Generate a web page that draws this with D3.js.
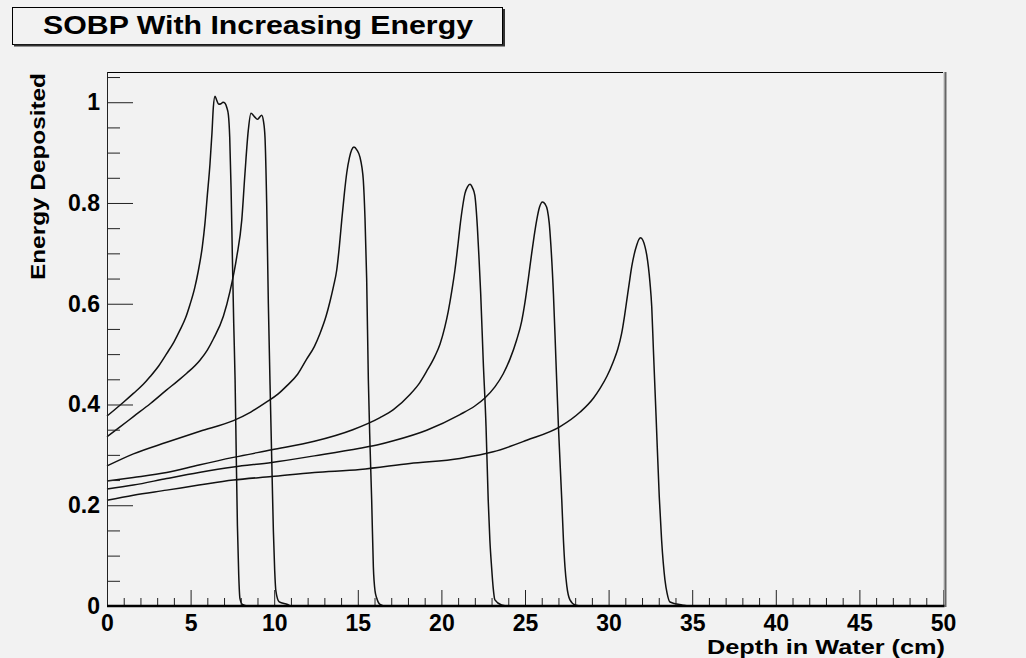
<!DOCTYPE html>
<html>
<head>
<meta charset="utf-8">
<script src="https://cdn.jsdelivr.net/npm/d3@7"></script>
<style>
  html, body { margin: 0; padding: 0; background: #f2f2f2; }
  svg { display: block; }
  text { font-family: "Liberation Sans", Arial, Helvetica, sans-serif; font-weight: bold; fill: #000; }
  .axis text { font-size: 23px; }
</style>
</head>
<body>
<div id="main"></div>
<script>
// [depth (cm), energy deposited], one list per beam energy
const curve1 = [[0, 0.377], [1.0, 0.405], [1.58, 0.422], [2.17, 0.44], [2.57, 0.455], [3.1, 0.477], [3.57, 0.501],
  [4.0, 0.524], [4.37, 0.548], [4.7, 0.572], [4.96, 0.598], [5.25, 0.632], [5.46, 0.665], [5.7, 0.713], [5.86, 0.76],
  [6.0, 0.815], [6.16, 0.878], [6.28, 0.94], [6.36, 0.99], [6.46, 1.012], [6.56, 1.004], [6.68, 0.996], [6.82, 0.997],
  [6.94, 1.0], [7.06, 0.998], [7.16, 0.99], [7.26, 0.975], [7.34, 0.93], [7.42, 0.83], [7.5, 0.69], [7.58, 0.56],
  [7.66, 0.45], [7.73, 0.3], [7.8, 0.16], [7.88, 0.06], [7.95, 0.015], [8.1, 0.003], [8.4, 0], [50, 0]];

const curve2 = [[0, 0.336], [0.8, 0.356], [1.58, 0.376], [2.6, 0.402], [3.57, 0.429], [4.2, 0.446], [4.77, 0.462],
  [5.56, 0.488], [6.0, 0.508], [6.36, 0.53], [6.96, 0.575], [7.36, 0.625], [7.76, 0.693], [8.06, 0.766], [8.25, 0.858],
  [8.45, 0.944], [8.61, 0.978], [8.8, 0.972], [9.0, 0.966], [9.12, 0.97], [9.25, 0.974], [9.36, 0.962], [9.45, 0.93],
  [9.55, 0.8], [9.65, 0.6], [9.79, 0.383], [9.88, 0.25], [9.95, 0.15], [10.03, 0.07], [10.1, 0.03], [10.3, 0.008],
  [10.8, 0.003], [11.0, 0], [50, 0]];

const curve3 = [[0, 0.278], [1.58, 0.302], [3.57, 0.325], [5.56, 0.347], [7.56, 0.368], [8.6, 0.385], [9.55, 0.405],
  [10.2, 0.42], [10.75, 0.437], [11.4, 0.46], [11.94, 0.49], [12.4, 0.515], [12.74, 0.541], [13.1, 0.575], [13.34, 0.605],
  [13.55, 0.635], [13.74, 0.667], [13.9, 0.715], [14.04, 0.766], [14.2, 0.82], [14.34, 0.86], [14.5, 0.89], [14.63, 0.905],
  [14.77, 0.911], [14.95, 0.905], [15.13, 0.891], [15.25, 0.87], [15.33, 0.845], [15.43, 0.77], [15.53, 0.65],
  [15.63, 0.45], [15.73, 0.32], [15.83, 0.21], [15.93, 0.078], [16.03, 0.03], [16.13, 0.016], [16.33, 0.003], [16.6, 0], [50, 0]];

const curve4 = [[0, 0.248], [1.58, 0.255], [3.57, 0.265], [5.5, 0.28], [7.56, 0.295], [9.85, 0.31], [12.4, 0.327],
  [14.7, 0.35], [16.33, 0.374], [17.13, 0.39], [18.12, 0.42], [18.7, 0.443], [19.12, 0.466], [19.6, 0.495],
  [19.92, 0.52], [20.2, 0.553], [20.41, 0.585], [20.62, 0.625], [20.81, 0.667], [21.0, 0.72], [21.11, 0.753], [21.28, 0.795],
  [21.41, 0.819], [21.56, 0.832], [21.71, 0.837], [21.86, 0.83], [22.0, 0.815], [22.15, 0.753], [22.25, 0.69], [22.35, 0.62],
  [22.5, 0.488], [22.67, 0.356], [22.8, 0.21], [22.9, 0.13], [23.0, 0.078], [23.1, 0.035], [23.2, 0.012], [23.6, 0.002], [24.0, 0], [50, 0]];

const curve5 = [[0, 0.232], [1.58, 0.24], [3.57, 0.253], [5.5, 0.265], [7.56, 0.276], [9.85, 0.285], [12.4, 0.298],
  [15.13, 0.313], [16.33, 0.321], [17.13, 0.328], [19.12, 0.349], [21.11, 0.38], [22.0, 0.397], [22.6, 0.413],
  [23.2, 0.435], [23.7, 0.461], [24.1, 0.49], [24.5, 0.528], [24.8, 0.565], [25.0, 0.603], [25.2, 0.65], [25.4, 0.7],
  [25.55, 0.735], [25.7, 0.766], [25.87, 0.792], [26.04, 0.802], [26.2, 0.798], [26.34, 0.786], [26.45, 0.76],
  [26.54, 0.72], [26.7, 0.62], [26.85, 0.488], [27.0, 0.356], [27.2, 0.21], [27.3, 0.13], [27.39, 0.078], [27.5, 0.04],
  [27.69, 0.012], [28.0, 0.002], [28.4, 0], [50, 0]];

const curve6 = [[0, 0.21], [1.58, 0.22], [3.57, 0.23], [5.5, 0.24], [7.56, 0.25], [9.85, 0.257], [12.4, 0.265],
  [15.13, 0.271], [18.12, 0.283], [21.11, 0.293], [23.1, 0.306], [25.1, 0.329], [27.1, 0.356], [28.3, 0.385],
  [29.1, 0.413], [29.49, 0.432], [29.9, 0.456], [30.28, 0.485], [30.55, 0.51], [30.78, 0.541], [30.95, 0.575],
  [31.08, 0.605], [31.24, 0.642], [31.38, 0.673], [31.53, 0.698], [31.68, 0.716], [31.8, 0.727], [31.92, 0.731],
  [32.05, 0.726], [32.18, 0.713], [32.28, 0.697], [32.38, 0.673], [32.48, 0.64], [32.58, 0.594], [32.68, 0.508],
  [32.84, 0.376], [33.03, 0.217], [33.17, 0.131], [33.37, 0.052], [33.5, 0.025], [33.67, 0.008], [34.4, 0.002], [34.8, 0], [50, 0]];

const curves = [curve1, curve2, curve3, curve4, curve5, curve6];

const xTickLabels = [0, 5, 10, 15, 20, 25, 30, 35, 40, 45, 50];
const yTickLabels = [0, 0.2, 0.4, 0.6, 0.8, 1];

const titleText = "SOBP With Increasing Energy";
const xTitle = "Depth in Water (cm)";
const yTitle = "Energy Deposited";

class SobpChart {
  constructor(config) {
    this.config = config;
    this.svg = null;
    this.margins = null;
    this.xScale = null;
    this.yScale = null;

    this.createSvg();
    this.createMargins();
  }

  createSvg() {
    this.svg = d3.select(this.config.div)
      .append("svg")
      .attr("width", 1026)
      .attr("height", 658);
  }

  createMargins() {
    this.margins = this.svg
      .append("g")
      .attr("transform", `translate(${this.config.left},${this.config.top})`);
  }

  createScales() {
    this.xScale = d3.scaleLinear().domain([0, 50]).range([0, this.config.width]);
    this.yScale = d3.scaleLinear().domain([0, 1.06]).range([this.config.height, 0]);
  }

  createAxis() {
    const w = this.config.width, h = this.config.height;
    const fmt = d3.format("~g");

    const yMinor = d3.range(0, 22).map(i => i * 0.05).filter((d, i) => i % 4 !== 0 && d <= 1.06);
    const xMinor = d3.range(0, 51).filter(d => d % 5 !== 0);

    const clean = g => {
      g.select(".domain").remove();
      g.selectAll(".tick line").attr("stroke", "#222").attr("stroke-width", 1);
    };

    this.margins.append("g").attr("class", "axis")
      .call(d3.axisLeft(this.yScale).tickValues(yMinor).tickSize(-13).tickFormat(""))
      .call(clean);
    this.margins.append("g").attr("class", "axis")
      .call(d3.axisLeft(this.yScale).tickValues(yTickLabels).tickSize(-26).tickPadding(7).tickFormat(fmt))
      .call(clean);

    this.margins.append("g").attr("class", "axis")
      .attr("transform", `translate(0,${h})`)
      .call(d3.axisBottom(this.xScale).tickValues(xMinor).tickSize(-8).tickFormat(""))
      .call(clean);
    this.margins.append("g").attr("class", "axis")
      .attr("transform", `translate(0,${h})`)
      .call(d3.axisBottom(this.xScale).tickValues(xTickLabels).tickSize(-16).tickPadding(9).tickFormat(fmt))
      .call(clean);

    this.svg.append("text")
      .attr("x", this.config.left + w + 2)
      .attr("y", 654)
      .attr("text-anchor", "end")
      .attr("font-size", 21)
      .attr("textLength", 238)
      .attr("lengthAdjust", "spacingAndGlyphs")
      .text(xTitle);

    this.svg.append("text")
      .attr("transform", `translate(45,${this.config.top + 1}) rotate(-90)`)
      .attr("text-anchor", "end")
      .attr("font-size", 21)
      .attr("textLength", 207)
      .attr("lengthAdjust", "spacingAndGlyphs")
      .text(yTitle);
  }

  renderFrame() {
    const w = this.config.width, h = this.config.height;
    this.margins.append("line").attr("x1", 0).attr("x2", w).attr("y1", 0.5).attr("y2", 0.5)
      .attr("stroke", "#000").attr("stroke-width", 1.2);
    this.margins.append("line").attr("x1", 0.5).attr("x2", 0.5).attr("y1", 0).attr("y2", h)
      .attr("stroke", "#222").attr("stroke-width", 1);
    this.margins.append("line").attr("x1", w + 1).attr("x2", w + 1).attr("y1", 0).attr("y2", h)
      .attr("stroke", "#bbb").attr("stroke-width", 1);
    this.margins.append("line").attr("x1", w + 2.5).attr("x2", w + 2.5).attr("y1", 0).attr("y2", h + 1)
      .attr("stroke", "#666").attr("stroke-width", 2);
    this.margins.append("line").attr("x1", 0).attr("x2", w + 1.5).attr("y1", h).attr("y2", h)
      .attr("stroke", "#000").attr("stroke-width", 2.4);
  }

  renderTitle() {
    const box = this.svg.append("g");
    box.append("rect")
      .attr("x", 12.5).attr("y", 7.5).attr("width", 490).attr("height", 37)
      .attr("fill", "#f2f2f2").attr("stroke", "#000").attr("stroke-width", 1);
    box.append("line").attr("x1", 504).attr("x2", 504).attr("y1", 9).attr("y2", 46)
      .attr("stroke", "#333").attr("stroke-width", 2);
    box.append("line").attr("x1", 14).attr("x2", 505).attr("y1", 45.5).attr("y2", 45.5)
      .attr("stroke", "#333").attr("stroke-width", 2);
    box.append("text")
      .attr("x", 258).attr("y", 33.5)
      .attr("text-anchor", "middle")
      .attr("font-size", 26)
      .attr("textLength", 430)
      .attr("lengthAdjust", "spacingAndGlyphs")
      .text(titleText);
  }

  renderCurves() {
    const line = d3.line()
      .x(d => this.xScale(d[0]))
      .y(d => this.yScale(d[1]))
      .curve(d3.curveMonotoneX);

    this.margins.selectAll("path.curve")
      .data(curves)
      .join("path")
      .attr("class", "curve")
      .attr("d", line)
      .attr("fill", "none")
      .attr("stroke", "#111")
      .attr("stroke-width", 1.5);
  }
}

function main() {
  const config = {div: "#main", width: 836, height: 534, top: 72, left: 107};
  const chart = new SobpChart(config);
  chart.createScales();
  chart.renderCurves();
  chart.createAxis();
  chart.renderFrame();
  chart.renderTitle();
}

main();
</script>
</body>
</html>
